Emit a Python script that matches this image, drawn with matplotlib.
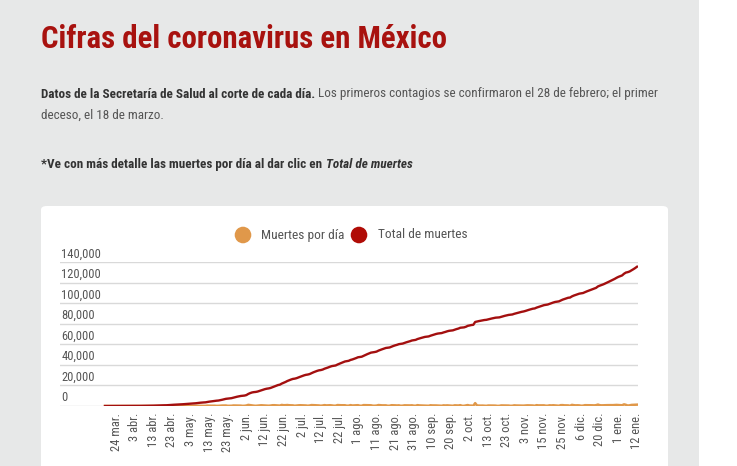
import numpy as np
import matplotlib
matplotlib.use("Agg")
import matplotlib.pyplot as plt
from matplotlib import font_manager
from matplotlib.patches import FancyBboxPatch, Rectangle, Ellipse

# ---------------- data ----------------
tick_labels = ["24 mar.", "3 abr.", "13 abr.", "23 abr.", "3 may.", "13 may.", "23 may.",
               "2 jun.", "12 jun.", "22 jun.", "2 jul.", "12 jul.", "22 jul.", "1 ago.",
               "11 ago.", "21 ago.", "31 ago.", "10 sep.", "20 sep.", "2 oct.", "13 oct.",
               "23 oct.", "3 nov.", "15 nov.", "25 nov.", "6 dic.", "20 dic.", "1 ene.", "12 ene."]

total_muertes = [
    # 18-31 mar
    1, 2, 2, 2, 3, 4, 5, 6, 8, 12, 16, 20, 28, 29,
    # abr
    37, 50, 60, 79, 94, 125, 141, 174, 194, 233, 273, 296, 332, 406, 449, 486, 546, 650,
    686, 712, 857, 970, 1069, 1221, 1305, 1351, 1434, 1569, 1732, 1859,
    # may
    1972, 2061, 2154, 2271, 2507, 2704, 2961, 3160, 3353, 3465, 3573, 3926, 4220, 4477,
    4767, 5045, 5177, 5332, 5666, 6090, 6510, 6989, 7179, 7394, 7633, 8134, 8597, 9044,
    9415, 9779, 9930,
    # jun
    10167, 10637, 11729, 12545, 13170, 13511, 13699, 14053, 14649, 15357, 15944, 16448,
    16872, 17141, 17580, 18310, 19080, 19747, 20394, 20781, 21825, 22584, 23377, 24324,
    25060, 25779, 26381, 26648, 27121, 27769,
    # jul
    28510, 29189, 29843, 30366, 30639, 31119, 32014, 32796, 33526, 34191, 34730, 35006,
    35491, 36327, 36906, 37574, 38310, 38888, 39184, 39485, 40400, 41190, 41908, 42645,
    43374, 43680, 44022, 44876, 45361, 46000, 46688,
    # ago
    47472, 47746, 48012, 48869, 49698, 50517, 51311, 52006, 52298, 52581, 53003, 53929,
    54666, 55293, 55908, 56543, 56757, 57023, 57774, 58481, 59106, 59610, 60254, 60480,
    60800, 61450, 62076, 62594, 63146, 63819, 64158,
    # 1-20 sep
    64414, 65241, 65816, 66329, 66851, 67326, 67558, 67781, 68484, 69049, 69649, 70183,
    70604, 70821, 71049, 71678, 72179, 72803, 73258, 73493,
    # hasta 2 oct
    73697, 74348, 74949, 75439, 76243, 76430, 76603, 77163, 78078, 78492,
    # hasta 13 oct
    78880, 79088, 81877, 82348, 82726, 83096, 83507, 83781, 83945, 84420,
    # hasta 23 oct
    84898, 85285, 85704, 86059, 86167, 86338, 86893, 87415, 87894, 88312,
    # hasta 3 nov
    88743, 88924, 89171, 89814, 90309, 90773, 91289, 91753, 92100, 92593,
    # hasta 15 nov
    93228, 93772, 94323, 94808, 95027, 95842, 96430, 97056, 97624, 98259,
    # hasta 25 nov
    98542, 98861, 99528, 100104, 100823, 101373, 101676, 101926, 102739, 103597,
    # hasta 6 dic
    104242, 104873, 105459, 105655, 106765, 107565, 108173, 108863, 109456, 109717,
    # hasta 20 dic
    110074, 110874, 111655, 112326, 113019, 113704, 114298, 115099, 116487, 117249,
    # hasta 1 ene
    117876, 118598, 119495, 120311, 121172, 122026, 122855, 123845, 124897, 125807,
    # hasta 12 ene
    126507, 127213, 128822, 129987, 130402, 131031, 132069, 133204, 134368, 135682,
]
muertes_por_dia = np.diff(np.array(total_muertes), prepend=0)

y_ticks = [0, 20000, 40000, 60000, 80000, 100000, 120000, 140000]
serie_nombres = ["Muertes por día", "Total de muertes"]

# ---------------- fonts ----------------
avail = {f.name for f in font_manager.fontManager.ttflist}
narrow = None
for cand in ["Liberation Sans Narrow", "Roboto Condensed", "Open Sans Condensed", "DejaVu Sans Condensed"]:
    if cand in avail:
        narrow = cand
        break
if narrow is None:
    narrow = "DejaVu Sans"
FAM = [narrow, "DejaVu Sans"]
plt.rcParams['font.family'] = FAM

# ---------------- colours ----------------
BG = "#e7e8e8"
RED_T = "#a8120f"
RED = "#a30f0f"
RED_DOT = "#b00c06"
ORANGE = "#e0984a"
GRID = "#d9d9d9"
TXT = "#555555"

W, H = 737, 466
fig = plt.figure(figsize=(W / 100, H / 100), dpi=100)
fig.patch.set_facecolor("white")

def fx(px):
    return px / W

def fy(py):
    return 1 - py / H

# page background
fig.patches.append(Rectangle((0, 0), fx(699), 1, transform=fig.transFigure,
                             facecolor=BG, edgecolor="none", zorder=0))
# white card
fig.patches.append(FancyBboxPatch((fx(41), fy(480)), fx(668 - 41), fy(206) - fy(480),
                                  boxstyle="round,pad=0,rounding_size=0.008",
                                  transform=fig.transFigure, facecolor="white",
                                  edgecolor="none", zorder=1))

# texts
fig.text(fx(41), fy(39), "Cifras del coronavirus en México", color=RED_T,
         fontsize=22.2, fontweight="bold", va="center", ha="left")

FS = 9.45
t1 = fig.text(fx(41), fy(94), "Datos de la Secretaría de Salud al corte de cada día.",
              color="#333333", fontsize=FS, fontweight="bold", va="center", ha="left")
fig.canvas.draw()
bb = t1.get_window_extent()
fig.text(bb.x1 / W + fx(3), fy(94),
         "Los primeros contagios se confirmaron el 28 de febrero; el primer",
         color=TXT, fontsize=FS, va="center", ha="left")
fig.text(fx(41), fy(115), "deceso, el 18 de marzo.", color=TXT, fontsize=FS,
         va="center", ha="left")

t3 = fig.text(fx(41), fy(165), "*Ve con más detalle las muertes por día al dar clic en",
              color="#333333", fontsize=FS, fontweight="bold", va="center", ha="left")
fig.canvas.draw()
bb3 = t3.get_window_extent()
fig.text(bb3.x1 / W + fx(4), fy(165), "Total de muertes", color="#333333",
         fontsize=FS, fontweight="bold", fontstyle="italic", va="center", ha="left")

# ---------------- chart ----------------
ax_left, ax_right = 60, 638
ax_top, ax_bot = 262.3, 406
ax = fig.add_axes([fx(ax_left), fy(ax_bot), fx(ax_right - ax_left), fy(ax_top) - fy(ax_bot)])
ax.set_zorder(3)
ax.patch.set_visible(False)

n = len(total_muertes)
x = np.arange(n)
px_per = (637 - 105) / (n - 1)
ax.set_xlim(-(105 - ax_left) / px_per, (n - 1) + (ax_right - 637) / px_per)
ax.set_ylim(0, 140000)

for yv in y_ticks:
    ax.axhline(yv, color=GRID, lw=1, zorder=1)
    ax.text(0.002, yv + 1700, f"{yv:,}", transform=ax.get_yaxis_transform(),
            ha="left", va="bottom", fontsize=9, color=TXT)

ax.plot(x, muertes_por_dia, color=ORANGE, lw=1.8, zorder=2, solid_joinstyle="round")
ax.plot(x, total_muertes, color=RED, lw=1.7, zorder=3, solid_joinstyle="round")

tick_pos = [6 + 10 * i for i in range(len(tick_labels))]
ax.set_xticks(tick_pos)
ax.set_xticklabels(tick_labels, rotation=90, fontsize=9, color=TXT)
ax.tick_params(axis="x", length=0, pad=5)
ax.set_yticks([])
for s in ax.spines.values():
    s.set_visible(False)

# legend
ly = fy(235)
r = 8.3
fig.patches.append(Ellipse((fx(243), ly), 2 * r / W, 2 * r / H, transform=fig.transFigure,
                           facecolor=ORANGE, edgecolor="none", zorder=4))
fig.text(fx(261), ly, serie_nombres[0], fontsize=9.6, color=TXT, va="center", ha="left")
fig.patches.append(Ellipse((fx(359), ly), 2 * r / W, 2 * r / H, transform=fig.transFigure,
                           facecolor=RED_DOT, edgecolor="none", zorder=4))
fig.text(fx(378), ly, serie_nombres[1], fontsize=9.6, color=TXT, va="center", ha="left")

fig.savefig("out.png", dpi=100, facecolor=fig.get_facecolor())
